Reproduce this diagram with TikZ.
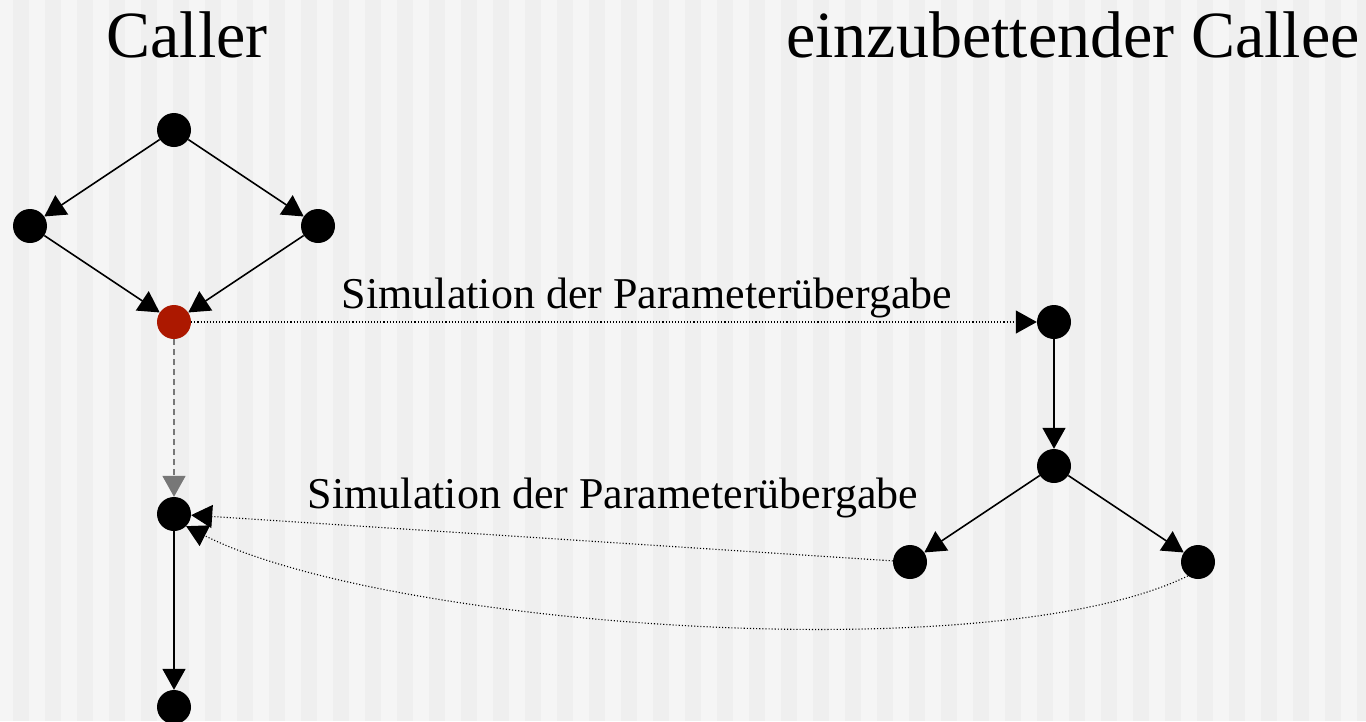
\documentclass[tikz,border=0pt]{standalone}
\usepackage{fontspec}
\setmainfont{Liberation Serif}
\usetikzlibrary{arrows.meta}
\definecolor{bglight}{HTML}{F5F5F5}
\definecolor{bgdark}{HTML}{EFEFEF}
\definecolor{callred}{RGB}{172,24,0}
\definecolor{dashgray}{HTML}{777777}
\begin{document}
\begin{tikzpicture}[x=1pt,y=1pt,
  vert/.style={circle,fill=black,inner sep=0pt,minimum size=34pt},
  redvert/.style={vert,fill=callred},
  title/.style={inner sep=0pt,anchor=base,font=\fontsize{66}{80}\selectfont},
  lbl/.style={inner sep=0pt,anchor=base,font=\fontsize{44}{52}\selectfont},
  tip/.style={-{Triangle[length=21pt,width=23pt]}},
  edgearrow/.style={tip,line width=1.6pt,black},
  simarrow/.style={tip,line width=1.1pt,black,dash pattern=on 1.1pt off 2pt},
  grayarrow/.style={tip,line width=1.6pt,dashgray,dash pattern=on 6pt off 4pt}
]
\useasboundingbox (0,0) rectangle (1366,-721);
\fill[bglight] (0,0) rectangle (1366,-721);
\foreach \i in {0,...,42} \fill[bgdark] ({13+32*\i},0) rectangle ++(16,-721);

% titles
\node[title] (tcaller) at (187,-57) {Caller};
\node[title] (tcallee) at (1073,-57) {einzubettender Callee};

% caller graph
\node[vert] (A) at (174,-130) {};
\node[vert] (B) at (30,-226) {};
\node[vert] (C) at (318,-226) {};
\node[redvert] (D) at (174,-322) {};
\node[vert] (E) at (174,-514) {};
\node[vert] (F) at (174,-707) {};

% callee graph
\node[vert] (G) at (1054,-322) {};
\node[vert] (H) at (1054,-466) {};
\node[vert] (I) at (910,-562) {};
\node[vert] (J) at (1198,-562) {};

% labels
\node[lbl] (l1) at (647,-308) {Simulation der Parameterübergabe};
\node[lbl] (l2) at (613,-508) {Simulation der Parameterübergabe};

% edges
\draw[edgearrow] (A) -- (B);
\draw[edgearrow] (A) -- (C);
\draw[edgearrow] (B) -- (D);
\draw[edgearrow] (C) -- (D);
\draw[grayarrow] (D) -- (E);
\draw[edgearrow] (E) -- (F);

\draw[edgearrow] (G) -- (H);
\draw[edgearrow] (H) -- (I);
\draw[edgearrow] (H) -- (J);

\draw[simarrow] (D) -- (G);
\draw[simarrow] (I) -- (E);
\draw[simarrow] (J.234) .. controls +(206:220) and +(-27:220) .. (E.-45);
\end{tikzpicture}
\end{document}
